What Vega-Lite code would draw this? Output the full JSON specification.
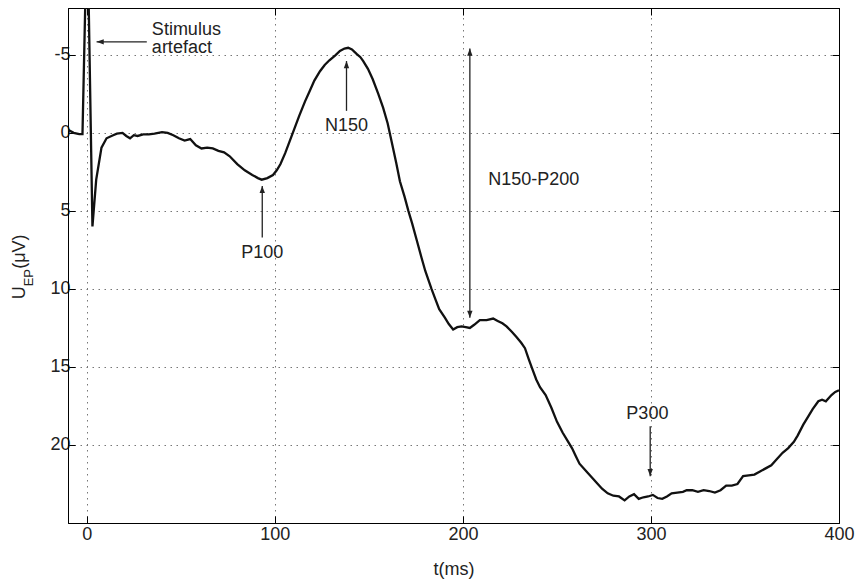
{
  "$schema": "https://vega.github.io/schema/vega-lite/v6.json",
  "width": 771,
  "height": 515,
  "autosize": {"type": "none"},
  "padding": {"left": 68, "top": 8, "right": 16, "bottom": 57},
  "background": "white",
  "config": {
    "view": {"stroke": "#000", "strokeWidth": 1},
    "axis": {
      "labelFont": "Liberation Sans", "labelFontSize": 18, "labelColor": "#222",
      "titleFont": "Liberation Sans", "titleFontSize": 18, "titleFontWeight": "normal", "titleColor": "#222",
      "domainColor": "#000", "domainWidth": 1, "tickColor": "#000", "tickSize": -7, "tickWidth": 1,
      "gridColor": "#777", "gridDash": [1.5, 4.5], "gridWidth": 1, "labelFlush": false
    }
  },
  "datasets": {
    "eep": [
      {"t": -10, "u": -0.2}, {"t": -7, "u": 0.0}, {"t": -4, "u": 0.08}, {"t": -2.3, "u": 0.08},
      {"t": 0.2, "u": -14}, {"t": 3.0, "u": 6.0}, {"t": 5, "u": 3.0}, {"t": 7.8, "u": 0.95},
      {"t": 10.5, "u": 0.35}, {"t": 14, "u": 0.15}, {"t": 16, "u": 0.05}, {"t": 19, "u": 0.0},
      {"t": 21, "u": 0.2}, {"t": 23, "u": 0.35}, {"t": 25, "u": 0.15}, {"t": 27, "u": 0.2},
      {"t": 30, "u": 0.1}, {"t": 33, "u": 0.1}, {"t": 36, "u": 0.05}, {"t": 40, "u": -0.05},
      {"t": 43, "u": 0.0}, {"t": 46, "u": 0.15}, {"t": 49, "u": 0.35}, {"t": 52, "u": 0.5},
      {"t": 55, "u": 0.4}, {"t": 58, "u": 0.8}, {"t": 61, "u": 1.0}, {"t": 64, "u": 0.95},
      {"t": 67, "u": 1.0}, {"t": 70, "u": 1.15}, {"t": 73, "u": 1.25}, {"t": 76, "u": 1.5},
      {"t": 80, "u": 2.0}, {"t": 84, "u": 2.4}, {"t": 88, "u": 2.7}, {"t": 91, "u": 2.9},
      {"t": 93, "u": 3.0}, {"t": 96, "u": 2.9}, {"t": 99, "u": 2.7}, {"t": 101, "u": 2.4},
      {"t": 103, "u": 2.0}, {"t": 105.5, "u": 1.3}, {"t": 108, "u": 0.5}, {"t": 110.5, "u": -0.3},
      {"t": 113, "u": -1.1}, {"t": 116, "u": -2.0}, {"t": 118.6, "u": -2.7}, {"t": 121, "u": -3.35},
      {"t": 124, "u": -3.95}, {"t": 126.5, "u": -4.35}, {"t": 129, "u": -4.65}, {"t": 132, "u": -4.95},
      {"t": 134.6, "u": -5.25}, {"t": 137, "u": -5.4}, {"t": 139, "u": -5.45}, {"t": 141, "u": -5.35},
      {"t": 143.6, "u": -5.05}, {"t": 145.5, "u": -4.85}, {"t": 147, "u": -4.6}, {"t": 149.5, "u": -4.1},
      {"t": 152, "u": -3.45}, {"t": 155, "u": -2.5}, {"t": 157.6, "u": -1.6}, {"t": 160, "u": -0.6},
      {"t": 162, "u": 0.5}, {"t": 164.5, "u": 1.9}, {"t": 166.5, "u": 3.1}, {"t": 169, "u": 4.1},
      {"t": 171, "u": 5.0}, {"t": 173, "u": 5.8}, {"t": 175.5, "u": 6.9}, {"t": 178, "u": 8.0},
      {"t": 180, "u": 8.85}, {"t": 183.3, "u": 10.0}, {"t": 185.5, "u": 10.7}, {"t": 187.4, "u": 11.3},
      {"t": 190.4, "u": 11.84}, {"t": 192.5, "u": 12.25}, {"t": 194.8, "u": 12.6}, {"t": 197, "u": 12.45},
      {"t": 199.3, "u": 12.4}, {"t": 201.5, "u": 12.45}, {"t": 203.7, "u": 12.5}, {"t": 206, "u": 12.3},
      {"t": 209, "u": 12.0}, {"t": 212.6, "u": 12.0}, {"t": 216.1, "u": 11.9}, {"t": 218.5, "u": 12.05},
      {"t": 221, "u": 12.2}, {"t": 223.2, "u": 12.4}, {"t": 226, "u": 12.75}, {"t": 228.6, "u": 13.1},
      {"t": 231, "u": 13.45}, {"t": 233, "u": 13.8}, {"t": 235, "u": 14.5}, {"t": 236.5, "u": 15.0},
      {"t": 239, "u": 15.8}, {"t": 241, "u": 16.3}, {"t": 244, "u": 16.8}, {"t": 247, "u": 17.6},
      {"t": 250, "u": 18.5}, {"t": 253, "u": 19.2}, {"t": 256, "u": 19.8}, {"t": 258, "u": 20.2},
      {"t": 260, "u": 20.7}, {"t": 262, "u": 21.2}, {"t": 265, "u": 21.6}, {"t": 268, "u": 22.0},
      {"t": 271, "u": 22.4}, {"t": 274, "u": 22.8}, {"t": 277, "u": 23.1}, {"t": 280, "u": 23.25},
      {"t": 283, "u": 23.3}, {"t": 286, "u": 23.55}, {"t": 288.5, "u": 23.3}, {"t": 291, "u": 23.15},
      {"t": 293.5, "u": 23.45}, {"t": 296, "u": 23.35}, {"t": 298.5, "u": 23.3}, {"t": 301, "u": 23.2},
      {"t": 303.5, "u": 23.4}, {"t": 306, "u": 23.45}, {"t": 308.5, "u": 23.3}, {"t": 311, "u": 23.1},
      {"t": 314, "u": 23.05}, {"t": 317, "u": 23.0}, {"t": 319, "u": 22.9}, {"t": 322, "u": 22.9},
      {"t": 325, "u": 23.0}, {"t": 328, "u": 22.9}, {"t": 331, "u": 22.95}, {"t": 334, "u": 23.05},
      {"t": 337, "u": 22.9}, {"t": 340, "u": 22.6}, {"t": 343, "u": 22.6}, {"t": 346, "u": 22.5},
      {"t": 349, "u": 22.0}, {"t": 352, "u": 21.95}, {"t": 355, "u": 21.9}, {"t": 358, "u": 21.7},
      {"t": 361, "u": 21.5}, {"t": 364, "u": 21.3}, {"t": 367, "u": 20.9}, {"t": 370, "u": 20.5},
      {"t": 373, "u": 20.2}, {"t": 376, "u": 19.8}, {"t": 378, "u": 19.4}, {"t": 381, "u": 18.7},
      {"t": 384, "u": 18.1}, {"t": 386, "u": 17.7}, {"t": 389, "u": 17.2}, {"t": 391, "u": 17.1},
      {"t": 393, "u": 17.2}, {"t": 396, "u": 16.8}, {"t": 398, "u": 16.6}, {"t": 400, "u": 16.5}
    ],
    "arrows": [
      {"t1": 31.9, "u1": -5.83, "t2": 5.2, "u2": -5.83},
      {"t1": 138.1, "u1": -1.41, "t2": 138.1, "u2": -4.6},
      {"t1": 93.3, "u1": 6.71, "t2": 93.3, "u2": 3.4},
      {"t1": 203.7, "u1": -5.4, "t2": 203.7, "u2": 11.85},
      {"t1": 299.6, "u1": 18.8, "t2": 299.6, "u2": 22.0}
    ],
    "heads": [
      {"t": 5.2, "u": -5.83, "dir": "left"},
      {"t": 138.1, "u": -4.6, "dir": "up"},
      {"t": 93.3, "u": 3.4, "dir": "up"},
      {"t": 203.7, "u": -5.4, "dir": "up"},
      {"t": 203.7, "u": 11.85, "dir": "down"},
      {"t": 299.6, "u": 22.0, "dir": "down"}
    ],
    "labels_left": [
      {"t": 34.6, "u": -6.3, "label": "Stimulus"},
      {"t": 34.6, "u": -5.12, "label": "artefact"},
      {"t": 213.5, "u": 3.35, "label": "N150-P200"}
    ],
    "labels_center": [
      {"t": 138.1, "u": -0.13, "label": "N150"},
      {"t": 93.35, "u": 8.03, "label": "P100"},
      {"t": 298.1, "u": 18.35, "label": "P300"}
    ],
    "ytitle": [
      {"part": "U"}, {"part": "EP"}, {"part": "(μV)"}
    ]
  },
  "layer": [
    {
      "data": {"name": "eep"},
      "mark": {"type": "line", "color": "#111", "strokeWidth": 2.3, "clip": true},
      "encoding": {
        "x": {"field": "t", "type": "quantitative", "scale": {"domain": [-10, 400], "nice": false, "zero": false},
              "axis": {"orient": "bottom", "values": [0, 100, 200, 300, 400], "grid": true, "title": "t(ms)", "labelPadding": 9, "titlePadding": 17}},
        "y": {"field": "u", "type": "quantitative", "scale": {"domain": [-8, 25], "reverse": true, "nice": false, "zero": false},
              "axis": {"orient": "left", "values": [-5, 0, 5, 10, 15, 20], "grid": true, "title": null, "labelPadding": 5, "labelExpr": "'' + datum.value"}}
      }
    },
    {
      "data": {"name": "eep"},
      "mark": {"type": "line", "opacity": 0},
      "encoding": {
        "x": {"field": "t", "type": "quantitative", "scale": {"domain": [-10, 400], "nice": false, "zero": false},
              "axis": {"orient": "top", "values": [0, 100, 200, 300, 400], "labels": false, "grid": false, "title": null}},
        "y": {"field": "u", "type": "quantitative", "scale": {"domain": [-8, 25], "reverse": true, "nice": false, "zero": false},
              "axis": {"orient": "right", "values": [-5, 0, 5, 10, 15, 20], "labels": false, "grid": false, "title": null}}
      }
    },
    {
      "data": {"name": "arrows"},
      "mark": {"type": "rule", "color": "#222", "strokeWidth": 1.3},
      "encoding": {
        "x": {"field": "t1", "type": "quantitative", "scale": {"domain": [-10, 400], "nice": false, "zero": false}, "axis": null},
        "y": {"field": "u1", "type": "quantitative", "scale": {"domain": [-8, 25], "reverse": true, "nice": false, "zero": false}, "axis": null},
        "x2": {"field": "t2"},
        "y2": {"field": "u2"}
      }
    },
    {
      "data": {"name": "heads"},
      "transform": [{"filter": "datum.dir === 'up'"}],
      "mark": {"type": "point", "shape": "M0,0L-0.6,1.6L0.6,1.6Z", "filled": true, "color": "#222", "opacity": 1, "size": 80, "angle": 0},
      "encoding": {
        "x": {"field": "t", "type": "quantitative", "scale": {"domain": [-10, 400], "nice": false, "zero": false}, "axis": null},
        "y": {"field": "u", "type": "quantitative", "scale": {"domain": [-8, 25], "reverse": true, "nice": false, "zero": false}, "axis": null}
      }
    },
    {
      "data": {"name": "heads"},
      "transform": [{"filter": "datum.dir === 'down'"}],
      "mark": {"type": "point", "shape": "M0,0L-0.6,1.6L0.6,1.6Z", "filled": true, "color": "#222", "opacity": 1, "size": 80, "angle": 180},
      "encoding": {
        "x": {"field": "t", "type": "quantitative", "scale": {"domain": [-10, 400], "nice": false, "zero": false}, "axis": null},
        "y": {"field": "u", "type": "quantitative", "scale": {"domain": [-8, 25], "reverse": true, "nice": false, "zero": false}, "axis": null}
      }
    },
    {
      "data": {"name": "heads"},
      "transform": [{"filter": "datum.dir === 'left'"}],
      "mark": {"type": "point", "shape": "M0,0L-0.6,1.6L0.6,1.6Z", "filled": true, "color": "#222", "opacity": 1, "size": 80, "angle": 270},
      "encoding": {
        "x": {"field": "t", "type": "quantitative", "scale": {"domain": [-10, 400], "nice": false, "zero": false}, "axis": null},
        "y": {"field": "u", "type": "quantitative", "scale": {"domain": [-8, 25], "reverse": true, "nice": false, "zero": false}, "axis": null}
      }
    },
    {
      "data": {"name": "labels_left"},
      "mark": {"type": "text", "align": "left", "baseline": "alphabetic", "font": "Liberation Sans", "fontSize": 18, "fill": "#222"},
      "encoding": {
        "x": {"field": "t", "type": "quantitative", "scale": {"domain": [-10, 400], "nice": false, "zero": false}, "axis": null},
        "y": {"field": "u", "type": "quantitative", "scale": {"domain": [-8, 25], "reverse": true, "nice": false, "zero": false}, "axis": null},
        "text": {"field": "label"}
      }
    },
    {
      "data": {"name": "labels_center"},
      "mark": {"type": "text", "align": "center", "baseline": "alphabetic", "font": "Liberation Sans", "fontSize": 18, "fill": "#222"},
      "encoding": {
        "x": {"field": "t", "type": "quantitative", "scale": {"domain": [-10, 400], "nice": false, "zero": false}, "axis": null},
        "y": {"field": "u", "type": "quantitative", "scale": {"domain": [-8, 25], "reverse": true, "nice": false, "zero": false}, "axis": null},
        "text": {"field": "label"}
      }
    },
    {
      "data": {"name": "ytitle"},
      "transform": [{"filter": "datum.part === 'U'"}],
      "mark": {"type": "text", "align": "left", "baseline": "alphabetic", "angle": 270, "dx": 0, "dy": -43, "font": "Liberation Sans", "fontSize": 18, "fill": "#222"},
      "encoding": {
        "x": {"datum": -10, "type": "quantitative", "scale": {"domain": [-10, 400], "nice": false, "zero": false}, "axis": null},
        "y": {"datum": 10.67, "type": "quantitative", "scale": {"domain": [-8, 25], "reverse": true, "nice": false, "zero": false}, "axis": null},
        "text": {"field": "part"}
      }
    },
    {
      "data": {"name": "ytitle"},
      "transform": [{"filter": "datum.part === 'EP'"}],
      "mark": {"type": "text", "align": "left", "baseline": "alphabetic", "angle": 270, "dx": 13, "dy": -35, "font": "Liberation Sans", "fontSize": 13, "fill": "#222"},
      "encoding": {
        "x": {"datum": -10, "type": "quantitative", "scale": {"domain": [-10, 400], "nice": false, "zero": false}, "axis": null},
        "y": {"datum": 10.67, "type": "quantitative", "scale": {"domain": [-8, 25], "reverse": true, "nice": false, "zero": false}, "axis": null},
        "text": {"field": "part"}
      }
    },
    {
      "data": {"name": "ytitle"},
      "transform": [{"filter": "datum.part === '(μV)'"}],
      "mark": {"type": "text", "align": "left", "baseline": "alphabetic", "angle": 270, "dx": 30.5, "dy": -43, "font": "Liberation Sans", "fontSize": 18, "fill": "#222"},
      "encoding": {
        "x": {"datum": -10, "type": "quantitative", "scale": {"domain": [-10, 400], "nice": false, "zero": false}, "axis": null},
        "y": {"datum": 10.67, "type": "quantitative", "scale": {"domain": [-8, 25], "reverse": true, "nice": false, "zero": false}, "axis": null},
        "text": {"field": "part"}
      }
    }
  ],
  "resolve": {"axis": {"x": "independent", "y": "independent"}}
}
